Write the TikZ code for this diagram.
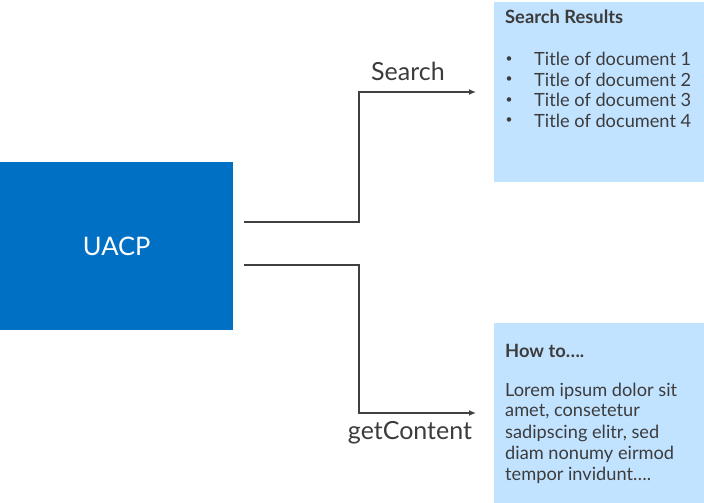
\documentclass[tikz,border=0pt]{standalone}
\usepackage{fontspec}
\setmainfont{Lato}
\usetikzlibrary{arrows.meta}
\definecolor{uacpblue}{HTML}{0070C5}
\definecolor{lightbox}{HTML}{C2E3FF}
\definecolor{txt}{HTML}{3C3C3C}
\definecolor{lnk}{HTML}{404040}
\tikzset{
  conn/.style={draw=lnk, line width=1.5pt, -{Latex[length=7pt,width=6pt]}},
  panel/.style={fill=lightbox, draw=none, minimum width=210pt, minimum height=180pt, anchor=north west, inner sep=0pt},
  lbl/.style={text=txt, font=\fontsize{25}{29}\selectfont, inner sep=0pt},
  boxtxt/.style={text=txt, font=\fontsize{18.2}{21}\selectfont, inner sep=0pt, anchor=west},
  boxhead/.style={boxtxt, font=\fontsize{18.3}{21}\selectfont\bfseries},
  bul/.style={text=txt, font=\fontsize{12}{14}\selectfont, inner sep=0pt},
}
\begin{document}
\begin{tikzpicture}[x=1pt,y=-1pt]
\useasboundingbox (0,0) rectangle (704,503);
% UACP
\node[fill=uacpblue, minimum width=233pt, minimum height=168pt, anchor=north west, inner sep=0pt,
      text=white, font=\fontsize{25.5}{29}\selectfont] (uacp) at (0,162) {UACP};
% panels
\node[panel] (res) at (494,2) {};
\node[panel] (how) at (494,323) {};
% panel texts
\node[boxhead] (rtitle) at (505,17) {Search Results};
\node[bul] (b1) at (509,59.5) {\textbullet};
\node[bul] (b2) at (509,80) {\textbullet};
\node[bul] (b3) at (509,100.5) {\textbullet};
\node[bul] (b4) at (509,121) {\textbullet};
\node[boxtxt] (t1) at (534,59) {Title of document 1};
\node[boxtxt] (t2) at (534,79.5) {Title of document 2};
\node[boxtxt] (t3) at (534,100) {Title of document 3};
\node[boxtxt] (t4) at (534,120.5) {Title of document 4};
\node[boxhead] (htitle) at (505,351) {How to\dots.};
\node[boxtxt] (l1) at (505,391) {Lorem ipsum dolor sit};
\node[boxtxt] (l2) at (505,412) {amet, consetetur};
\node[boxtxt] (l3) at (505,433) {sadipscing elitr, sed};
\node[boxtxt] (l4) at (505,454) {diam nonumy eirmod};
\node[boxtxt] (l5) at (505,475) {tempor invidunt\dots.};
% connectors
\coordinate (s0) at (244,222);
\coordinate (s1) at (476,92);
\coordinate (g0) at (244,265);
\coordinate (g1) at (476,413);
\draw[conn] (s0) -- (359,222) -- (359,92) -- (s1);
\draw[conn] (g0) -- (359,265) -- (359,413) -- (g1);
\node[lbl] (slbl) at (408,71) {Search};
\node[lbl] (glbl) at (410,433) {getContent};
\end{tikzpicture}
\end{document}
